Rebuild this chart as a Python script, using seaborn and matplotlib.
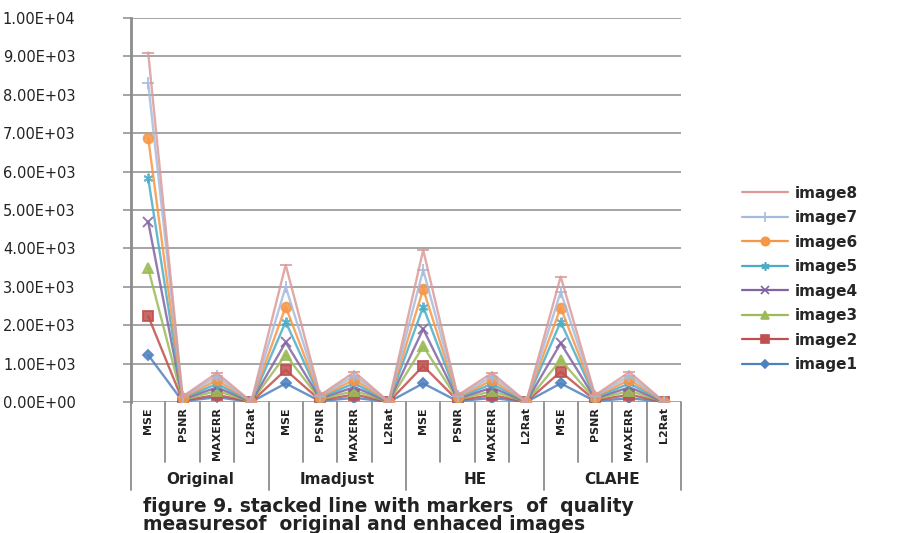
import numpy as np
import pandas as pd
import matplotlib
matplotlib.use("Agg")
import matplotlib.pyplot as plt
import seaborn as sns
from matplotlib.ticker import FuncFormatter

# Category axis: enhancement method (outer level) x quality measure (inner level)
groups = ["Original", "Imadjust", "HE", "CLAHE"]
measures = ["MSE", "PSNR", "MAXERR", "L2Rat"]
series_names = ["image1", "image2", "image3", "image4",
                "image5", "image6", "image7", "image8"]

# Per-image values in category order:
# Original(MSE, PSNR, MAXERR, L2Rat), Imadjust(...), HE(...), CLAHE(...)
image1 = [1225, 17.3, 125, 0.98, 485, 21.3, 110, 1.02, 485, 21.3, 105, 1.01, 485, 21.3, 100, 1.00]
image2 = [1015, 18.1, 60, 0.97, 350, 22.7, 85, 1.03, 455, 21.6, 75, 1.02, 305, 23.3, 90, 1.01]
image3 = [1240, 17.2, 105, 0.96, 390, 22.2, 95, 1.04, 510, 21.1, 100, 1.03, 305, 23.3, 100, 1.02]
image4 = [1215, 17.3, 90, 0.97, 330, 22.9, 100, 1.02, 450, 21.6, 95, 1.02, 435, 21.7, 95, 1.01]
image5 = [1130, 17.6, 95, 0.98, 535, 20.9, 100, 1.03, 580, 20.5, 95, 1.04, 560, 20.6, 100, 1.02]
image6 = [1055, 17.9, 95, 0.97, 390, 22.2, 95, 1.02, 460, 21.5, 95, 1.03, 370, 22.5, 95, 1.01]
image7 = [1420, 16.6, 95, 0.96, 520, 21.0, 100, 1.03, 500, 21.1, 95, 1.02, 410, 22.0, 100, 1.02]
image8 = [800, 19.1, 90, 0.98, 570, 20.6, 95, 1.02, 520, 21.0, 95, 1.02, 395, 22.2, 100, 1.01]

y_ticks = [0, 1000, 2000, 3000, 4000, 5000, 6000, 7000, 8000, 9000, 10000]

caption_lines = ["figure 9. stacked line with markers  of  quality",
                 "measuresof  original and enhaced images"]

colors = ["#4F81BD", "#C0504D", "#9BBB59", "#8064A2",
          "#4BACC6", "#F79646", "#A5BBDE", "#DC9A98"]
markers = ["D", "s", "^", "x", (6, 2, 0), "o", "+", "_"]
msizes = [5, 7, 7, 7, 7, 7, 8, 9]

# Build long-form data with stacked (cumulative) values
values = np.array([image1, image2, image3, image4,
                   image5, image6, image7, image8], dtype=float)
stacked = np.cumsum(values, axis=0)
categories = [(g, m) for g in groups for m in measures]
positions = np.arange(len(categories))

rows = []
for name, col in zip(series_names, stacked):
    for p, v in zip(positions, col):
        rows.append({"pos": p, "value": v, "series": name})
df = pd.DataFrame(rows)

sns.set_style("white")
plt.rcParams["font.family"] = ["DejaVu Sans"]

fig = plt.figure(figsize=(9.01, 5.33), dpi=100)
ax = fig.add_axes([131 / 901, 1 - 402 / 533, 550 / 901, 384 / 533])

handles = []
for i, name in enumerate(series_names):
    sub = df[df["series"] == name]
    sns.lineplot(data=sub, x="pos", y="value", ax=ax, color=colors[i],
                 lw=1.7, alpha=0.85, marker=markers[i], markersize=msizes[i],
                 markeredgewidth=1.4, markeredgecolor=colors[i],
                 legend=False, zorder=3 + i)
    h, = ax.plot([], [], color=colors[i], lw=1.6, marker=markers[i],
                 markersize=msizes[i] - 1, markeredgewidth=1.2,
                 markeredgecolor=colors[i])
    handles.append(h)

ax.set_xlim(-0.5, len(categories) - 0.5)
ax.set_ylim(0, 10000)
ax.set_yticks(y_ticks)
ax.yaxis.set_major_formatter(FuncFormatter(lambda v, _: f"{v:.2E}"))
ax.grid(axis="y", color="#8C8C8C", lw=1.1)
ax.set_axisbelow(True)
ax.tick_params(axis="y", length=6, width=1.1, color="#8C8C8C",
               labelsize=10.5, labelcolor="#222222", pad=34, left=True)
for lbl in ax.get_yticklabels():
    lbl.set_fontweight("medium")
ax.set_xticks([])
ax.set_xlabel("")
ax.set_ylabel("")
for s in ["top", "right", "bottom"]:
    ax.spines[s].set_visible(False)
ax.spines["left"].set_color("#8C8C8C")
ax.spines["left"].set_linewidth(2)

# Two-level category axis
trans = ax.get_xaxis_transform()
n_meas = len(measures)
for k in range(len(categories) + 1):
    bottom = -0.228 if k % n_meas == 0 else -0.156
    ax.plot([k - 0.5, k - 0.5], [0, bottom], transform=trans, color="#8C8C8C",
            lw=1.3, clip_on=False)
for p, (g, m) in zip(positions, categories):
    ax.text(p, -0.014, m, transform=trans, rotation=90, ha="center", va="top",
            fontsize=8, fontweight="bold", color="#222222")
for gi, g in enumerate(groups):
    center = gi * n_meas + (n_meas - 1) / 2
    ax.text(center, -0.203, g, transform=trans, ha="center", va="center",
            fontsize=11, fontweight="bold", color="#222222")

ax.legend(handles[::-1], series_names[::-1], loc="center left",
          bbox_to_anchor=(728 / 901, 1 - 279 / 533),
          bbox_transform=fig.transFigure, frameon=False, fontsize=11,
          handlelength=3.0, labelspacing=0.62, handletextpad=0.5,
          prop={"size": 11, "weight": "semibold"})

fig.text(143 / 901, 1 - 507 / 533, caption_lines[0], fontsize=13.5,
         fontweight="semibold", color="#222222", va="center", ha="left")
fig.text(143 / 901, 1 - 525 / 533, caption_lines[1], fontsize=13.5,
         fontweight="semibold", color="#222222", va="center", ha="left")

fig.savefig("out.png", dpi=100)
